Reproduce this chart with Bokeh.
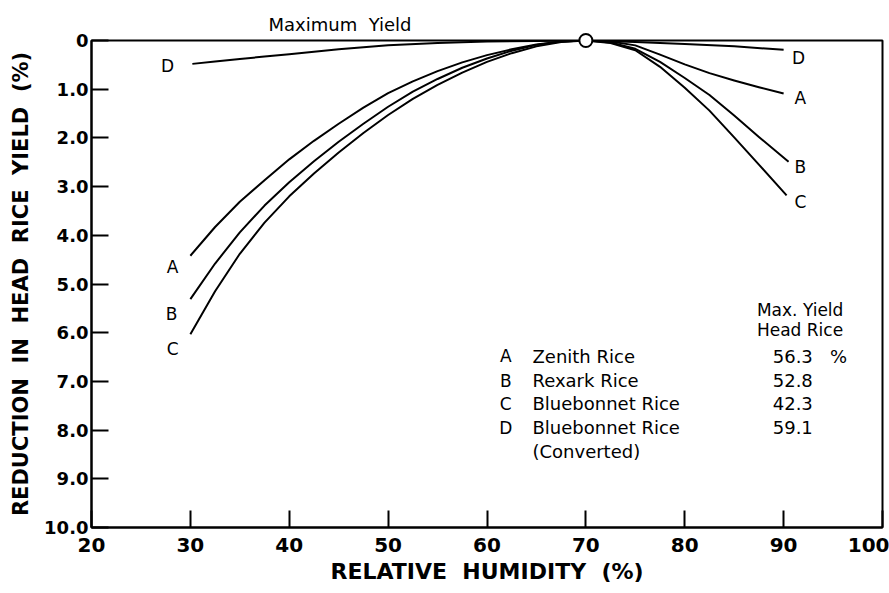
from bokeh.plotting import figure
from bokeh.models import Range1d, FixedTicker, Label, Title
from bokeh.embed import file_html
from bokeh.resources import INLINE

# ---------------- data ----------------
x_ticks = [20, 30, 40, 50, 60, 70, 80, 90, 100]
y_ticks = [0, 1, 2, 3, 4, 5, 6, 7, 8, 9, 10]
y_tick_labels = ["0", "1.0", "2.0", "3.0", "4.0", "5.0", "6.0", "7.0", "8.0", "9.0", "10.0"]

a_x = [30, 32.5, 35, 37.5, 40, 42.5, 45, 47.5, 50, 52.5, 55, 57.5, 60, 62.5, 65, 67.5, 70,
       72.5, 75, 77.5, 80, 82.5, 85, 87.5, 90.0]
a_y = [4.42, 3.83, 3.31, 2.87, 2.44, 2.06, 1.71, 1.38, 1.08, 0.84, 0.63, 0.45, 0.30, 0.18, 0.08, 0.02, 0,
       0.02, 0.10, 0.29, 0.49, 0.67, 0.82, 0.96, 1.09]

b_x = [30, 32.5, 35, 37.5, 40, 42.5, 45, 47.5, 50, 52.5, 55, 57.5, 60, 62.5, 65, 67.5, 70,
       72.5, 75, 77.5, 80, 82.5, 85, 87.5, 90.5]
b_y = [5.31, 4.58, 3.94, 3.39, 2.91, 2.48, 2.08, 1.71, 1.36, 1.05, 0.79, 0.56, 0.37, 0.21, 0.09, 0.02, 0,
       0.04, 0.17, 0.44, 0.77, 1.12, 1.54, 1.98, 2.49]

c_x = [30, 32.5, 35, 37.5, 40, 42.5, 45, 47.5, 50, 52.5, 55, 57.5, 60, 62.5, 65, 67.5, 70,
       72.5, 75, 77.5, 80, 82.5, 85, 87.5, 90.3]
c_y = [6.03, 5.15, 4.38, 3.74, 3.20, 2.73, 2.30, 1.90, 1.53, 1.20, 0.91, 0.66, 0.44, 0.26, 0.12, 0.03, 0,
       0.05, 0.20, 0.54, 0.97, 1.44, 1.99, 2.55, 3.18]

d_x = [30.2, 32.5, 35, 37.5, 40, 42.5, 45, 47.5, 50, 55, 60, 65, 70, 75, 80, 85, 90]
d_y = [0.48, 0.43, 0.38, 0.33, 0.28, 0.23, 0.18, 0.14, 0.10, 0.05, 0.02, 0.01, 0, 0.03, 0.07, 0.12, 0.19]

max_point_x = [70]
max_point_y = [0]

series_keys = ["A", "B", "C", "D"]
series_names = ["Zenith Rice", "Rexark Rice", "Bluebonnet Rice", "Bluebonnet Rice"]
series_note = ["", "", "", "(Converted)"]
max_yield = [56.3, 52.8, 42.3, 59.1]

# ---------------- figure ----------------
FONT = "DejaVu Sans"
SP2 = "\u00a0\u00a0"  # the original lettering uses wide word gaps

p = figure(width=889, height=593, output_backend="svg", toolbar_location=None,
           x_range=Range1d(20, 100), y_range=Range1d(10, 0),
           min_border_left=91, min_border_right=7, min_border_top=40, min_border_bottom=66)
p.background_fill_color = "white"
p.border_fill_color = "white"
p.outline_line_color = "black"
p.outline_line_width = 2
p.xgrid.visible = False
p.ygrid.visible = False

p.add_layout(Title(text="Maximum" + SP2 + "Yield", align="left", offset=177,
                   text_font=FONT, text_font_size="18px", text_font_style="normal",
                   text_color="black", standoff=12), "above")

p.xaxis.ticker = FixedTicker(ticks=x_ticks)
p.yaxis.ticker = FixedTicker(ticks=y_ticks)
p.yaxis.major_label_overrides = {t: l for t, l in zip(y_ticks, y_tick_labels)}

for ax in (p.xaxis, p.yaxis):
    ax.axis_line_color = "black"
    ax.axis_line_width = 2
    ax.major_tick_line_color = "black"
    ax.major_tick_line_width = 2
    ax.major_tick_in = 17
    ax.major_tick_out = 0
    ax.minor_tick_line_color = None
    ax.major_label_text_font = FONT
    ax.major_label_text_font_style = "bold"
    ax.major_label_text_color = "black"
    ax.axis_label_text_font = FONT
    ax.axis_label_text_font_style = "bold"
    ax.axis_label_text_color = "black"

p.xaxis.axis_label = SP2.join(["RELATIVE", "HUMIDITY", "(%)"])
p.yaxis.axis_label = SP2.join(["REDUCTION", "IN", "HEAD", "RICE", "YIELD", "(%)"])
p.xaxis.major_label_text_font_size = "20px"
p.yaxis.major_label_text_font_size = "18px"
p.xaxis.axis_label_text_font_size = "22px"
p.yaxis.axis_label_text_font_size = "21px"
p.xaxis.major_label_standoff = 10
p.yaxis.major_label_standoff = 3
p.xaxis.axis_label_standoff = 4
p.yaxis.axis_label_standoff = 8

# ---------------- curves ----------------
for xs, ys in ((a_x, a_y), (b_x, b_y), (c_x, c_y), (d_x, d_y)):
    p.line(xs, ys, line_color="black", line_width=2, line_join="round")

p.scatter(max_point_x, max_point_y, marker="circle", size=13, fill_color="white",
          line_color="black", line_width=2, level="overlay")

# ---------------- labels ----------------
def lab(x, y, text, size="17px", align="center", weight="normal"):
    p.add_layout(Label(x=x, y=y, text=text, text_font=FONT, text_font_size=size,
                       text_align=align, text_baseline="middle", text_color="black",
                       text_font_style=weight))

# curve end labels
left_pos = {"A": (28.2, 4.65), "B": (28.1, 5.61), "C": (28.2, 6.33), "D": (27.7, 0.53)}
right_pos = {"D": (91.5, 0.35), "A": (91.7, 1.19), "B": (91.7, 2.60), "C": (91.7, 3.32)}
for k in series_keys:
    lab(*left_pos[k], k)
    lab(*right_pos[k], k)

# table of maximum yields
lab(87.3, 5.53, "Max." + "\u00a0" + "Yield", align="left")
lab(87.3, 5.94, "Head Rice", align="left")
row_y = [6.48, 6.99, 7.46, 7.95]
for i, k in enumerate(series_keys):
    lab(61.9, row_y[i], k)
    lab(64.6, row_y[i], series_names[i], size="18px", align="left")
    val = f"{max_yield[i]:.1f}" + (SP2 + "\u00a0%" if i == 0 else "")
    lab(88.9, row_y[i], val, size="18px", align="left")
    if series_note[i]:
        lab(64.6, row_y[i] + 0.49, series_note[i], size="18px", align="left")

open("out.html", "w").write(file_html(p, INLINE))
